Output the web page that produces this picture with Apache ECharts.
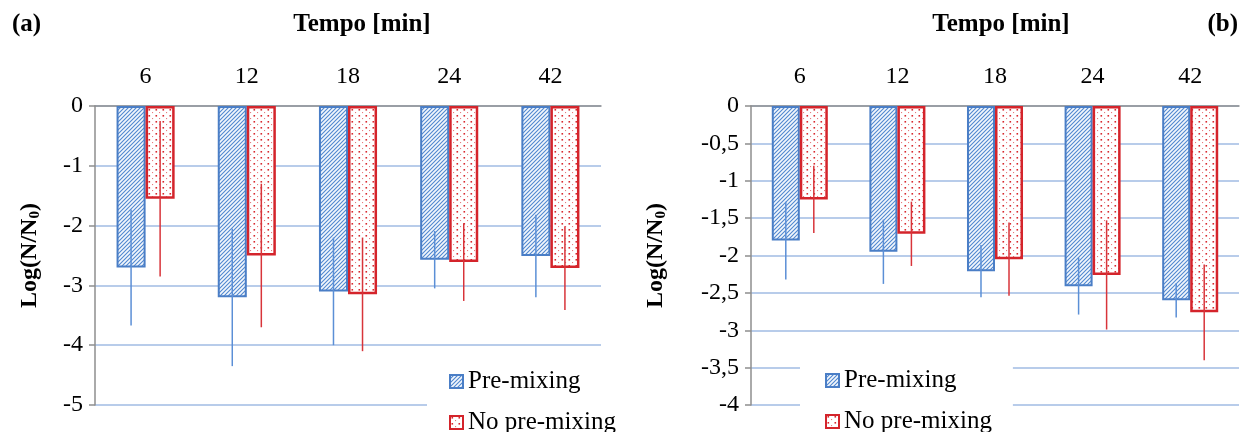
<!DOCTYPE html>
<html>
<head>
<meta charset="utf-8">
<script src="https://cdn.jsdelivr.net/npm/echarts@6/dist/echarts.min.js"></script>
<style>html,body{margin:0;padding:0;background:#fff}#c{width:1253px;height:432px}</style>
</head>
<body>
<div id="c"></div>
<script>
const categories = ['6', '12', '18', '24', '42'];
const seriesNames = ['Pre-mixing', 'No pre-mixing'];
// Panel (a)
const leftPre = [-2.7, -3.2, -3.1, -2.57, -2.51];
const leftNoPre = [-1.55, -2.5, -3.15, -2.61, -2.71];
const leftPreErr = [0.97, 1.15, 0.9, 0.48, 0.69];
const leftNoPreErr = [1.3, 1.2, 0.95, 0.65, 0.7];
// Panel (b)
const rightPre = [-1.8, -1.95, -2.21, -2.41, -2.6];
const rightNoPre = [-1.25, -1.71, -2.05, -2.26, -2.76];
const rightPreErr = [0.52, 0.43, 0.35, 0.38, 0.23];
const rightNoPreErr = [0.45, 0.43, 0.49, 0.73, 0.64];
const leftAxis = {min: -5, max: 0, interval: 1};
const rightAxis = {min: -4, max: 0, interval: 0.5};

const FONT = 'Liberation Serif, Times New Roman, serif';
const BLUE = '#4A7EC6';
const RED = '#D4242B';
const BAR_W = 0.287;

function hatchCanvas() {
  const c = document.createElement('canvas');
  c.width = 4; c.height = 4;
  const g = c.getContext('2d');
  g.fillStyle = '#F3F7FC'; g.fillRect(0, 0, 4, 4);
  g.strokeStyle = '#5087CF'; g.lineWidth = 1.1;
  g.beginPath();
  g.moveTo(0, 4); g.lineTo(4, 0);
  g.moveTo(-1, 1); g.lineTo(1, -1);
  g.moveTo(3, 5); g.lineTo(5, 3);
  g.stroke();
  return c;
}
function dotCanvas() {
  const c = document.createElement('canvas');
  c.width = 7; c.height = 6;
  const g = c.getContext('2d');
  g.fillStyle = '#ffffff'; g.fillRect(0, 0, 7, 6);
  g.fillStyle = '#D8282E'; g.fillRect(1.5, 1, 1.6, 1.6);
  g.fillStyle = '#E87A7E'; g.fillRect(5, 4, 1.1, 1.1);
  return c;
}
const hatch = {image: hatchCanvas(), repeat: 'repeat'};
const dots = {image: dotCanvas(), repeat: 'repeat'};

function errData(vals, errs) {
  return vals.map((v, i) => [i, v, errs[i]]);
}
function errSeries(name, vals, errs, axisIdx, side, color) {
  return {
    type: 'custom', name: name, xAxisIndex: axisIdx, yAxisIndex: axisIdx, z: 5,
    data: errData(vals, errs),
    encode: {x: 0, y: 1},
    silent: true,
    renderItem: function (params, api) {
      const i = api.value(0), v = api.value(1), e = api.value(2);
      const band = api.size([1, 0])[0];
      const off = side * band * BAR_W / 2;
      const p1 = api.coord([i, v + e]);
      const p2 = api.coord([i, v - e]);
      return {
        type: 'line',
        shape: {x1: p1[0] + off, y1: p1[1], x2: p2[0] + off, y2: p2[1]},
        style: {stroke: color, lineWidth: 1.5}
      };
    }
  };
}
function barSeries(name, vals, axisIdx, pattern, border, bw) {
  return {
    type: 'bar', name: name, xAxisIndex: axisIdx, yAxisIndex: axisIdx,
    data: vals, barWidth: (BAR_W * 100) + '%', barGap: '0%',
    itemStyle: {color: pattern, borderColor: border, borderWidth: bw},
    emphasis: {disabled: true}
  };
}
function xAxis(idx) {
  return {
    type: 'category', gridIndex: idx, data: categories, position: 'top',
    axisLine: {lineStyle: {color: '#8E8E8E', width: 1.5}},
    axisTick: {inside: true, length: 6, lineStyle: {color: '#8E8E8E', width: 1.5}},
    axisLabel: {fontFamily: FONT, fontSize: 24, color: '#000', margin: 17},
    splitLine: {show: false}
  };
}
function yAxis(idx, ax, gap, fmt) {
  return {
    type: 'value', gridIndex: idx, min: ax.min, max: ax.max, interval: ax.interval,
    name: '{a|Log(N/N}{b|0}{a|)}', nameLocation: 'middle', nameGap: gap, nameRotate: 90,
    nameTextStyle: {
      rich: {
        a: {fontFamily: FONT, fontSize: 24, fontWeight: 'bold', color: '#000', lineHeight: 27},
        b: {fontFamily: FONT, fontSize: 15, fontWeight: 'bold', color: '#000', lineHeight: 15, verticalAlign: 'bottom'}
      }
    },
    axisLine: {show: true, lineStyle: {color: '#8E8E8E', width: 1.5}},
    axisTick: {show: true, inside: false, length: 6, lineStyle: {color: '#8E8E8E', width: 1.5}},
    axisLabel: {fontFamily: FONT, fontSize: 24, color: '#000', margin: 12, formatter: fmt},
    splitLine: {show: true, lineStyle: {color: '#B8CCEA', width: 2}}
  };
}
function legend(left, top, pad) {
  return {
    left: left, top: top, height: 120, orient: 'vertical', backgroundColor: '#ffffff',
    padding: pad, itemGap: 16, itemWidth: 13, itemHeight: 13, icon: 'rect',
    textStyle: {fontFamily: FONT, fontSize: 25, color: '#000'},
    data: seriesNames, selectedMode: false
  };
}

const chart = echarts.init(document.getElementById('c'));
chart.setOption({
  animation: false,
  backgroundColor: '#fff',
  grid: [
    {left: 95, top: 106, width: 506, height: 299},
    {left: 751, top: 106, width: 488, height: 299}
  ],
  xAxis: [xAxis(0), xAxis(1)],
  yAxis: [
    yAxis(0, leftAxis, 52, v => String(v)),
    yAxis(1, rightAxis, 82, v => String(v).replace('.', ','))
  ],
  legend: [legend(427, 357, [12, 14, 4, 22]), legend(800, 347, [21, 21, 4, 25])],
  graphic: [
    {type: 'text', x: 12, y: 25, style: {text: '(a)', fontFamily: FONT, fontSize: 25, fontWeight: 'bold', fill: '#000', verticalAlign: 'middle'}},
    {type: 'text', x: 362, y: 25, style: {text: 'Tempo [min]', fontFamily: FONT, fontSize: 25, fontWeight: 'bold', fill: '#000', align: 'center', verticalAlign: 'middle'}},
    {type: 'text', x: 1001, y: 25, style: {text: 'Tempo [min]', fontFamily: FONT, fontSize: 25, fontWeight: 'bold', fill: '#000', align: 'center', verticalAlign: 'middle'}},
    {type: 'text', x: 1238, y: 25, style: {text: '(b)', fontFamily: FONT, fontSize: 25, fontWeight: 'bold', fill: '#000', align: 'right', verticalAlign: 'middle'}}
  ],
  series: [
    barSeries(seriesNames[0], leftPre, 0, hatch, BLUE, 2),
    barSeries(seriesNames[1], leftNoPre, 0, dots, RED, 2.5),
    barSeries(seriesNames[0], rightPre, 1, hatch, BLUE, 2),
    barSeries(seriesNames[1], rightNoPre, 1, dots, RED, 2.5),
    errSeries('errA1', leftPre, leftPreErr, 0, -1, '#5B8FD6'),
    errSeries('errA2', leftNoPre, leftNoPreErr, 0, 1, '#D8343A'),
    errSeries('errB1', rightPre, rightPreErr, 1, -1, '#5B8FD6'),
    errSeries('errB2', rightNoPre, rightNoPreErr, 1, 1, '#D8343A')
  ]
});
</script>
</body>
</html>
